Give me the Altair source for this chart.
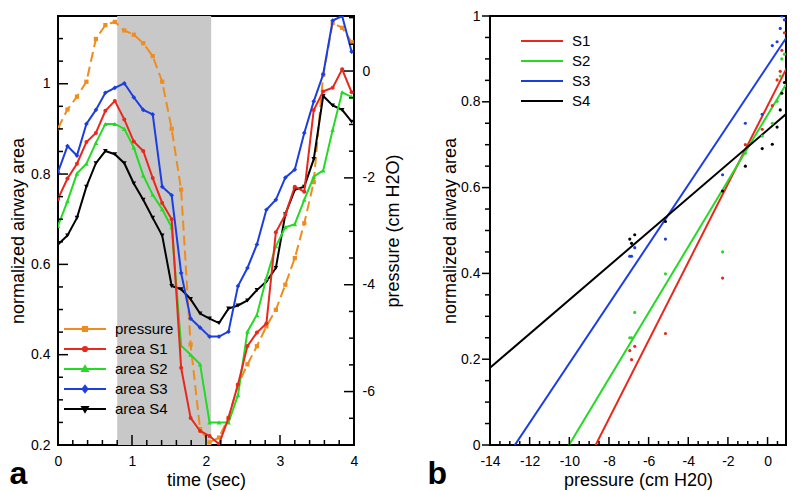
import altair as alt
import pandas as pd

FONT = "Liberation Sans"

# ---------------- panel a data ----------------
time_sec = [0.0, 0.128, 0.256, 0.384, 0.512, 0.64, 0.768, 0.896, 1.024, 1.152, 1.28, 1.408,
            1.536, 1.664, 1.792, 1.92, 2.048, 2.176, 2.304, 2.432, 2.56, 2.688, 2.816, 2.944,
            3.072, 3.2, 3.328, 3.456, 3.584, 3.712, 3.84, 3.968]
pressure = [-1.07, -0.72, -0.48, -0.20, 0.60, 0.86, 0.92, 0.76, 0.68, 0.52, 0.28, -0.20,
            -1.08, -2.22, -5.12, -6.70, -6.95, -6.86, -6.49, -5.88, -5.49, -5.15, -4.78, -4.47,
            -4.00, -3.50, -2.85, -2.08, -0.07, 0.90, 0.81, 0.54]
area_s1 = [0.745, 0.790, 0.823, 0.871, 0.891, 0.940, 0.962, 0.921, 0.872, 0.851, 0.791, 0.736,
           0.700, 0.371, 0.260, 0.231, 0.220, 0.202, 0.260, 0.334, 0.419, 0.449, 0.469, 0.671,
           0.710, 0.772, 0.761, 0.942, 0.983, 0.991, 1.032, 0.981]
area_s2 = [0.685, 0.740, 0.801, 0.823, 0.869, 0.911, 0.911, 0.900, 0.859, 0.797, 0.754, 0.722,
           0.682, 0.420, 0.400, 0.379, 0.250, 0.250, 0.250, 0.310, 0.451, 0.488, 0.570, 0.640,
           0.682, 0.689, 0.743, 0.794, 0.808, 0.898, 0.981, 0.971]
area_s3 = [0.804, 0.862, 0.841, 0.911, 0.942, 0.980, 0.991, 1.001, 0.970, 0.942, 0.932, 0.772,
           0.753, 0.581, 0.480, 0.460, 0.440, 0.440, 0.451, 0.552, 0.592, 0.644, 0.721, 0.743,
           0.792, 0.810, 0.891, 0.961, 1.021, 1.140, 1.150, 1.071]
area_s4 = [0.644, 0.664, 0.703, 0.772, 0.824, 0.851, 0.844, 0.824, 0.779, 0.743, 0.703, 0.664,
           0.552, 0.545, 0.523, 0.491, 0.480, 0.470, 0.502, 0.509, 0.520, 0.543, 0.562, 0.592,
           0.711, 0.765, 0.772, 0.833, 0.973, 0.952, 0.942, 0.916]
shade_start = [0.8]
shade_end = [2.07]

legend_a = ["pressure", "area S1", "area S2", "area S3", "area S4"]

# ---------------- panel b data ----------------
b_pressure = [0.85, 0.72, 0.64, 0.48, 0.24, -0.27, -1.12, -2.27, -5.15, -6.70, -6.95, -6.86]
b_s1 = [0.961, 0.920, 0.871, 0.851, 0.791, 0.736, 0.700, 0.389, 0.260, 0.230, 0.220, 0.199]
b_s2 = [0.911, 0.900, 0.860, 0.801, 0.750, 0.720, 0.680, 0.450, 0.399, 0.309, 0.250, 0.250]
b_s3 = [0.991, 1.000, 0.971, 0.940, 0.931, 0.771, 0.750, 0.630, 0.480, 0.460, 0.440, 0.440]
b_s4 = [0.845, 0.820, 0.781, 0.741, 0.701, 0.691, 0.650, 0.592, 0.521, 0.490, 0.480, 0.470]
fit_pressure = [-14, 1]
fit_s1 = [-0.486, 0.882]
fit_s2 = [-0.306, 0.846]
fit_s3 = [-0.087, 0.953]
fit_s4 = [0.180, 0.774]
series_b = ["S1", "S2", "S3", "S4"]

# ---------------- tick values ----------------
ta_major = [0, 1, 2, 3, 4]
aa_major = [0.2, 0.4, 0.6, 0.8, 1.0]
pa_major = [-6, -4, -2, 0]
pb_major = [-14, -12, -10, -8, -6, -4, -2, 0]
ab_major = [0, 0.2, 0.4, 0.6, 0.8, 1.0]

# ---------------- styling ----------------
ORANGE = "#f08c1e"
RED = "#e8281c"
GREEN = "#25d925"
BLUE = "#1c3ee0"
BLACK = "#000000"
GRAY = "#c8c8c8"

W1, W2, H = 296, 296, 429

T_DOM = [0, 4]
A_DOM = [0.2, 1.15]
P_DOM = [-7, 1.03]
BX_DOM = [-14, 0.93]
BY_DOM = [0, 1]

VLINE = "M0,-1L0,1"
HLINE = "M-1,0L1,0"


def sc(dom):
    return alt.Scale(domain=dom, nice=False, zero=False)


def frange(a, b, step):
    out = []
    k = 0
    while True:
        v = round(a + k * step, 4)
        if v > b + 1e-9:
            break
        out.append(v)
        k += 1
    return out


def minor(a, b, step, major_step):
    return [v for v in frange(a, b, step)
            if abs(v / major_step - round(v / major_step)) > 1e-6]


def axis(orient, values, pad=8, title=None, tpad=3, tangle=None, tbase=None):
    kw = dict(orient=orient, values=values, ticks=False, domain=False, grid=False,
              labels=True, zindex=1, title=title,
              labelFont=FONT, labelFontSize=14, labelColor="black", labelPadding=pad,
              labelFlush=False, labelExpr="'' + datum.value")
    if title:
        kw.update(titleFont=FONT, titleFontSize=18, titleFontWeight="normal",
                  titleColor="black", titlePadding=tpad)
        if tangle is not None:
            kw["titleAngle"] = tangle
        if tbase is not None:
            kw["titleBaseline"] = tbase
    return alt.Axis(**kw)


def xticks(values, dom, length, center):
    return alt.Chart(pd.DataFrame({"v": values})).mark_point(
        shape=VLINE, size=length * length, filled=False, strokeWidth=1.5,
        color=BLACK, opacity=1).encode(
        x=alt.X("v:Q", scale=sc(dom), axis=None), y=alt.value(center))


def yticks(values, dom, length, center):
    return alt.Chart(pd.DataFrame({"v": values})).mark_point(
        shape=HLINE, size=length * length, filled=False, strokeWidth=1.5,
        color=BLACK, opacity=1).encode(
        y=alt.Y("v:Q", scale=sc(dom), axis=None), x=alt.value(center))


# ---------------- panel a ----------------
df_a = pd.DataFrame({"t": time_sec, "pressure": pressure, "S1": area_s1,
                     "S2": area_s2, "S3": area_s3, "S4": area_s4})
df_shade = pd.DataFrame({"start": shade_start, "end": shade_end})

shade = alt.Chart(df_shade).mark_rect(color=GRAY).encode(
    x=alt.X("start:Q", scale=sc(T_DOM), axis=None), x2="end:Q")

p_line = alt.Chart(df_a).mark_line(
    color=ORANGE, strokeWidth=2, strokeDash=[10, 5], clip=True,
    point=alt.OverlayMarkDef(shape="square", filled=True, color=ORANGE, size=18, opacity=1)
).encode(
    x=alt.X("t:Q", scale=sc(T_DOM), axis=None),
    y=alt.Y("pressure:Q", scale=sc(P_DOM),
            axis=axis("right", pa_major, pad=8, title="pressure (cm H2O)", tpad=10,
                      tangle=270, tbase="top")))


def area_line(col, color, shape, size, x_axis=None, y_axis=None):
    return alt.Chart(df_a).mark_line(
        color=color, strokeWidth=2, clip=True,
        point=alt.OverlayMarkDef(shape=shape, filled=True, color=color, size=size, opacity=1)
    ).encode(
        x=alt.X("t:Q", scale=sc(T_DOM), axis=x_axis),
        y=alt.Y(f"{col}:Q", scale=sc(A_DOM), axis=y_axis))


s4 = area_line("S4", BLACK, "triangle-down", 22)
s3 = area_line("S3", BLUE, "diamond", 22)
s2 = area_line("S2", GREEN, "triangle-up", 22)
s1 = area_line("S1", RED, "circle", 16,
               x_axis=axis("bottom", ta_major, pad=9, title="time (sec)", tpad=3),
               y_axis=axis("left", aa_major, pad=8, title="normalized airway area", tpad=3))

ticks_a = [
    xticks(ta_major, T_DOM, 10, H - 5),
    xticks(minor(0, 4, 0.2, 1), T_DOM, 5, H - 2.5),
    yticks(aa_major, A_DOM, 10, 5),
    yticks(minor(0.25, 1.15, 0.05, 0.2), A_DOM, 5, 2.5),
    yticks(pa_major, P_DOM, 10, W1 - 5),
    yticks(minor(-6.5, 1.0, 0.5, 2), P_DOM, 5, W1 - 2.5),
]

paths_a = [
    "M-1,0H5M1.7,-0.3H2.3V0.3H1.7Z",
    "M-1,0H5M1.7,0A0.3,0.3 0 1,0 2.3,0A0.3,0.3 0 1,0 1.7,0",
    "M-1,0H5M1.6,0.3L2,-0.4L2.4,0.3Z",
    "M-1,0H5M2,-0.45L2.35,0L2,0.45L1.65,0Z",
    "M-1,0H5M1.6,-0.3L2,0.4L2.4,-0.3Z",
]
leg_a = alt.Legend(title=None, orient="none", legendX=5, legendY=305, symbolSize=196,
                   symbolStrokeWidth=2, symbolOpacity=1, labelFont=FONT, labelFontSize=15,
                   labelColor="black", labelOffset=36, rowPadding=4, padding=0,
                   direction="vertical")
df_leg_a = pd.DataFrame({"name": legend_a})
legend_layer = alt.Chart(df_leg_a).transform_filter("false").mark_point(
    filled=False, size=196, strokeWidth=2, opacity=1).encode(
    color=alt.Color("name:N", scale=alt.Scale(domain=legend_a,
                    range=[ORANGE, RED, GREEN, BLUE, BLACK]), legend=leg_a),
    shape=alt.Shape("name:N", scale=alt.Scale(domain=legend_a, range=paths_a), legend=leg_a))

left = alt.layer(shade, p_line, s4, s3, s2, s1, *ticks_a, legend_layer).resolve_scale(
    y="independent").resolve_axis(x="independent", y="independent").properties(
    width=W1, height=H,
    title=alt.TitleParams("a", orient="bottom", anchor="start", font=FONT, fontSize=32,
                          fontWeight="bold", color="black", offset=0, dy=-30))

# ---------------- panel b ----------------
rows_pts = []
for name, vals in zip(series_b, [b_s1, b_s2, b_s3, b_s4]):
    for p, a in zip(b_pressure, vals):
        rows_pts.append({"series": name, "p": p, "a": a})
df_pts = pd.DataFrame(rows_pts)

rows_fit = []
for name, vals in zip(series_b, [fit_s1, fit_s2, fit_s3, fit_s4]):
    for p, a in zip(fit_pressure, vals):
        rows_fit.append({"series": name, "p": p, "a": a})
df_fit = pd.DataFrame(rows_fit)

col_b = alt.Scale(domain=series_b, range=[RED, GREEN, BLUE, BLACK])
leg_b = alt.Legend(title=None, orient="none", legendX=30, legendY=17, symbolType="M-1,0H5",
                   symbolSize=196, symbolStrokeWidth=2, symbolOpacity=1, labelFont=FONT,
                   labelFontSize=15, labelColor="black", labelOffset=36, rowPadding=4,
                   padding=0, direction="vertical")

fit_lines = alt.Chart(df_fit).mark_line(strokeWidth=2, clip=True).encode(
    x=alt.X("p:Q", scale=sc(BX_DOM),
            axis=axis("bottom", pb_major, pad=9, title="pressure (cm H20)", tpad=3)),
    y=alt.Y("a:Q", scale=sc(BY_DOM),
            axis=axis("left", ab_major, pad=10, title="normalized airway area", tpad=1)),
    color=alt.Color("series:N", scale=col_b, legend=leg_b))

dots = alt.Chart(df_pts).mark_circle(size=10, opacity=1, clip=True).encode(
    x=alt.X("p:Q", scale=sc(BX_DOM), axis=None),
    y=alt.Y("a:Q", scale=sc(BY_DOM), axis=None),
    color=alt.Color("series:N", scale=col_b, legend=None))

ticks_b = [
    xticks(pb_major, BX_DOM, 8, H - 4),
    xticks(minor(-13.5, 0.5, 0.5, 2), BX_DOM, 4, H - 2),
    yticks(ab_major, BY_DOM, 8, -4),
    yticks(minor(0.05, 0.95, 0.05, 0.2), BY_DOM, 5, -2.5),
]

right = alt.layer(fit_lines, dots, *ticks_b).resolve_axis(
    x="independent", y="independent").properties(
    width=W2, height=H,
    title=alt.TitleParams("b", orient="bottom", anchor="start", font=FONT, fontSize=32,
                          fontWeight="bold", color="black", offset=0, dy=-30, dx=-14))

chart = alt.hconcat(left, right, spacing=22).resolve_scale(
    color="independent", shape="independent").properties(
    padding=0, background="white").configure(
    font=FONT, view=alt.ViewConfig(stroke="black", strokeWidth=2))

chart.save("out.html", embed_options={"renderer": "svg", "actions": False})
